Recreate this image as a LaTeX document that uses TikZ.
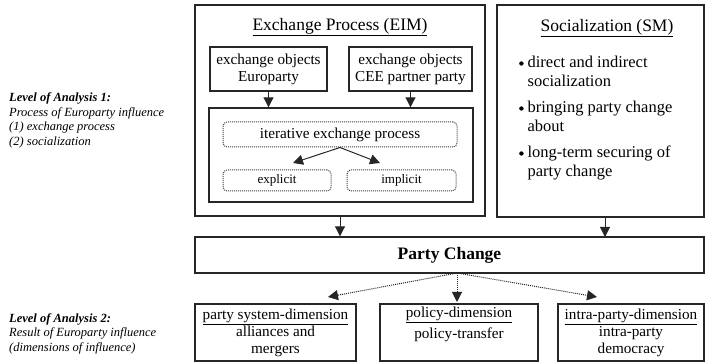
\documentclass[tikz,border=0pt]{standalone}
\usepackage{fontspec}
\setmainfont{Liberation Serif}
\usetikzlibrary{arrows.meta,positioning}
\tikzset{
  box/.style={draw=black!85, line width=1.4pt, inner sep=0pt, align=center},
  softbox/.style={draw=black!75, densely dotted, line width=1pt, rounded corners=4pt, inner sep=0pt, align=center},
  arr/.style={-{Triangle[length=10pt,width=10pt]}, line width=1pt, black!85},
  dotarr/.style={arr, densely dotted},
  lvl/.style={anchor=north west, align=left, font=\fontsize{12.5}{14.5}\selectfont\itshape, inner sep=0pt}
}
\newcommand{\bul}{\tikz[baseline=-4pt]\fill (0,0) circle (2.2pt);}
\begin{document}
\begin{tikzpicture}[x=1pt,y=-1pt, font=\fontsize{15.2}{17}\selectfont]
  \useasboundingbox (0,0) rectangle (707,363);
  % upper level
  \node[box, minimum width=290pt, minimum height=211pt] (eim) at (340,110.5) {};
  \node[font=\fontsize{17.5}{18}\selectfont] (eimtitle) at (340,27) {\underline{Exchange Process (EIM)}};
  \node[box, minimum width=117pt, minimum height=44pt] (objeu) at (268.5,69) {exchange objects\\Europarty};
  \node[box, minimum width=123pt, minimum height=44pt] (objcee) at (410.5,69) {exchange objects\\CEE partner party};
  \node[box, minimum width=264pt, minimum height=94pt] (proc) at (341,155) {};
  \node[softbox, minimum width=234pt, minimum height=25pt] (iter) at (340,134.5) {iterative exchange process};
  \node[softbox, minimum width=108pt, minimum height=21pt, font=\fontsize{13}{14}\selectfont] (expl) at (277,180.5) {explicit};
  \node[softbox, minimum width=109pt, minimum height=21pt, font=\fontsize{13}{14}\selectfont] (impl) at (401.5,180.5) {implicit};
  \node[box, minimum width=207pt, minimum height=212pt] (sm) at (600.5,111) {};
  \node[font=\fontsize{17.5}{18}\selectfont] (smtitle) at (607,28) {\underline{Socialization (SM)}};
  \node[anchor=north west, inner sep=0pt, font=\fontsize{16.5}{19}\selectfont] (smlist) at (519,54) {%
    \begin{tabular}{@{}l@{\hspace{4pt}}l@{}}
      \bul & direct and indirect\\
           & socialization\\[7pt]
      \bul & bringing party change\\
           & about\\[7pt]
      \bul & long-term securing of\\
           & party change
    \end{tabular}};
  \draw[arr] (objeu) -- (objeu |- proc.north);
  \draw[arr] (objcee) -- (objcee |- proc.north);
  \draw[arr] (iter.south) -- (293,163);
  \draw[arr] (iter.south) -- (380,163);
  % party change
  \node[box, minimum width=509pt, minimum height=36pt, font=\fontsize{17.5}{18}\selectfont\bfseries] (change) at (449.5,255) {Party Change};
  \draw[arr] (eim) -- (eim |- change.north);
  \draw[arr] (sm.south -| 605,0) -- (605,237);
  % dimensions
  \node[box, minimum width=161pt, minimum height=57pt] (dim1) at (275.5,332.5) {\underline{party system-dimension}\\alliances and\\mergers};
  \node[box, minimum width=158pt, minimum height=57pt] (dim2) at (459,332.5) {\underline{policy-dimension}\\[4pt]policy-transfer\\[3pt]};
  \node[box, minimum width=146pt, minimum height=57pt] (dim3) at (631,332.5) {\underline{intra-party-dimension}\\intra-party\\democracy};
  \coordinate (src) at (457,273);
  \coordinate (t1) at (328,297);
  \coordinate (t2) at (457,302);
  \coordinate (t3) at (597,297);
  \draw[dotarr] (src) -- (t1);
  \draw[dotarr] (src) -- (t2);
  \draw[dotarr] (src) -- (t3);
  % levels of analysis
  \node[lvl] (lvl1) at (9,93) {\textbf{Level of Analysis 1:}\\Process of Europarty influence\\(1) exchange process\\(2) socialization};
  \node[lvl] (lvl2) at (9,313) {\textbf{Level of Analysis 2:}\\Result of Europarty influence\\(dimensions of influence)};
\end{tikzpicture}
\end{document}
